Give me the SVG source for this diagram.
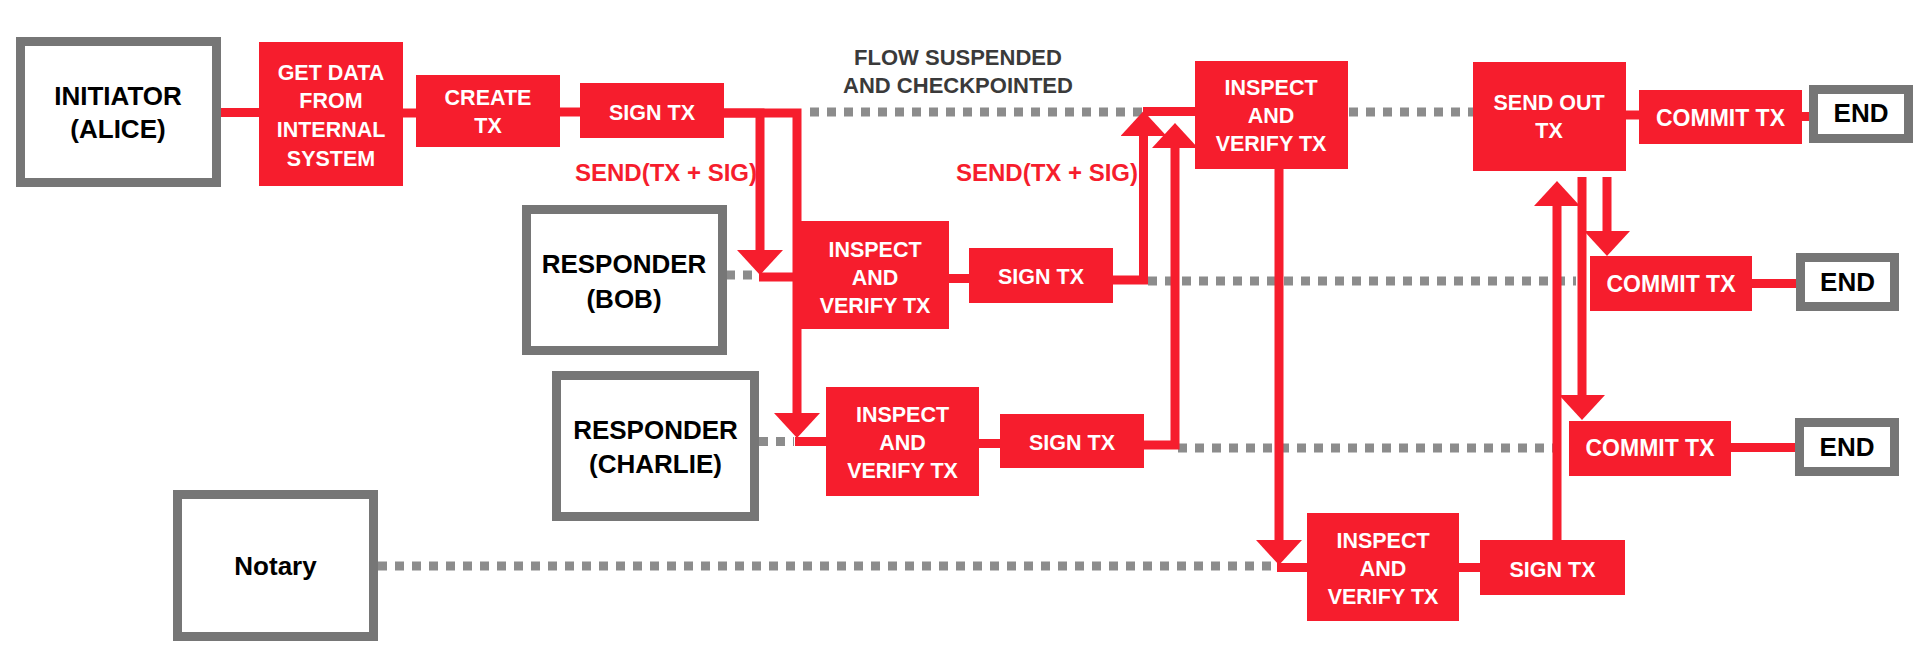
<svg xmlns="http://www.w3.org/2000/svg" width="1917" height="663" viewBox="0 0 1917 663">
<style>
.actor{fill:#ffffff;stroke:#767676;stroke-width:9}
.step{fill:#f61d2d}
.big{font-family:"Liberation Sans",Arial,sans-serif;font-weight:bold;font-size:26px;fill:#000;text-anchor:middle}
.lbl{font-family:"Liberation Sans",Arial,sans-serif;font-weight:bold;font-size:21.5px;fill:#fff;text-anchor:middle}
.cm{font-size:23px}
.red{font-family:"Liberation Sans",Arial,sans-serif;font-weight:bold;font-size:24px;fill:#f61d2d;text-anchor:middle}
.note{font-family:"Liberation Sans",Arial,sans-serif;font-weight:bold;font-size:22px;fill:#3a3a3a;text-anchor:middle}
.ln{fill:none;stroke:#f61d2d;stroke-width:9;stroke-linejoin:miter}
.arr{marker-end:url(#ah)}
.dot{fill:none;stroke:#8c8c8c;stroke-width:9;stroke-dasharray:9 8}
</style>
<defs>
<marker id="ah" markerUnits="userSpaceOnUse" markerWidth="26" markerHeight="46" refX="0" refY="23" orient="auto" viewBox="0 0 26 46">
<path d="M0,0 L25,23 L0,46 Z" fill="#f61d2d"/>
</marker>
</defs>
<rect width="1917" height="663" fill="#ffffff"/>

<g id="dotted">
<path class="dot" d="M810,112 H1143"/>
<path class="dot" d="M1349,112 H1473"/>
<path class="dot" d="M726,275 H759"/>
<path class="dot" d="M1148,281 H1576"/>
<path class="dot" d="M759,441.5 H794"/>
<path class="dot" d="M1178,448 H1553"/>
<path class="dot" d="M378,566 H1277"/>
</g>

<g id="connectors">
<path class="ln" d="M220,112.5 H260"/>
<path class="ln" d="M402,113 H417"/>
<path class="ln" d="M559,112 H581"/>
<path class="ln arr" d="M723,113 H760 V250"/>
<path class="ln" d="M759,277 H802"/>
<path class="ln arr" d="M723,113 H797 V413"/>
<path class="ln" d="M795,441.5 H827"/>
<path class="ln" d="M948,278.5 H970"/>
<path class="ln arr" d="M1112,280 H1143.5 V136"/>
<path class="ln" d="M1143,111.5 H1196"/>
<path class="ln" d="M978,443.5 H1001"/>
<path class="ln arr" d="M1143,445 H1175 V148"/>
<path class="ln arr" d="M1279,168 V540"/>
<path class="ln" d="M1277,567.5 H1308"/>
<path class="ln" d="M1458,567.5 H1481"/>
<path class="ln arr" d="M1557,541 V206"/>
<path class="ln" d="M1625,115 H1640"/>
<path class="ln" d="M1801,116.5 H1811"/>
<path class="ln arr" d="M1607,177 V231"/>
<path class="ln arr" d="M1582,177 V395"/>
<path class="ln" d="M1751,283.5 H1797"/>
<path class="ln" d="M1730,447.5 H1796"/>
</g>

<g id="note">
<text class="note" x="958" y="65">FLOW SUSPENDED</text>
<text class="note" x="958" y="93">AND CHECKPOINTED</text>
<text class="red" x="666" y="181">SEND(TX + SIG)</text>
<text class="red" x="1047" y="181">SEND(TX + SIG)</text>
</g>

<g id="initiator">
<rect class="actor" x="20.5" y="41.5" width="196" height="141"/>
<text class="big" x="118" y="105">INITIATOR</text>
<text class="big" x="118" y="138">(ALICE)</text>
</g>
<g id="get-data">
<rect class="step" x="259" y="42" width="144" height="144"/>
<text class="lbl" x="331" y="80">GET DATA</text>
<text class="lbl" x="331" y="108">FROM</text>
<text class="lbl" x="331" y="137">INTERNAL</text>
<text class="lbl" x="331" y="166">SYSTEM</text>
</g>
<g id="create-tx">
<rect class="step" x="416" y="75" width="144" height="72"/>
<text class="lbl" x="488" y="105">CREATE</text>
<text class="lbl" x="488" y="133">TX</text>
</g>
<g id="sign-tx-alice">
<rect class="step" x="580" y="83" width="144" height="55"/>
<text class="lbl" x="652" y="120">SIGN TX</text>
</g>
<g id="inspect-alice">
<rect class="step" x="1195" y="61" width="153" height="108"/>
<text class="lbl" x="1271" y="95">INSPECT</text>
<text class="lbl" x="1271" y="123">AND</text>
<text class="lbl" x="1271" y="151">VERIFY TX</text>
</g>
<g id="send-out-tx">
<rect class="step" x="1473" y="62" width="153" height="109"/>
<text class="lbl" x="1549" y="110">SEND OUT</text>
<text class="lbl" x="1549" y="138">TX</text>
</g>
<g id="commit-alice">
<rect class="step" x="1639" y="90" width="163" height="54"/>
<text class="lbl cm" x="1720.5" y="126">COMMIT TX</text>
</g>
<g id="end-alice">
<rect class="actor" x="1813.5" y="89.5" width="95" height="49"/>
<text class="big" x="1861" y="122">END</text>
</g>

<g id="responder-bob">
<rect class="actor" x="526.5" y="209.5" width="196" height="141"/>
<text class="big" x="624" y="273">RESPONDER</text>
<text class="big" x="624" y="308">(BOB)</text>
</g>
<g id="inspect-bob">
<rect class="step" x="801" y="221" width="148" height="108"/>
<text class="lbl" x="875" y="257">INSPECT</text>
<text class="lbl" x="875" y="285">AND</text>
<text class="lbl" x="875" y="313">VERIFY TX</text>
</g>
<g id="sign-tx-bob">
<rect class="step" x="969" y="248" width="144" height="55"/>
<text class="lbl" x="1041" y="284">SIGN TX</text>
</g>
<g id="commit-bob">
<rect class="step" x="1590" y="256" width="162" height="55"/>
<text class="lbl cm" x="1671" y="292">COMMIT TX</text>
</g>
<g id="end-bob">
<rect class="actor" x="1800.5" y="257.5" width="94" height="49"/>
<text class="big" x="1847.5" y="291">END</text>
</g>

<g id="responder-charlie">
<rect class="actor" x="556.5" y="375.5" width="198" height="141"/>
<text class="big" x="655.5" y="439">RESPONDER</text>
<text class="big" x="655.5" y="473">(CHARLIE)</text>
</g>
<g id="inspect-charlie">
<rect class="step" x="826" y="387" width="153" height="109"/>
<text class="lbl" x="902.5" y="422">INSPECT</text>
<text class="lbl" x="902.5" y="450">AND</text>
<text class="lbl" x="902.5" y="478">VERIFY TX</text>
</g>
<g id="sign-tx-charlie">
<rect class="step" x="1000" y="414" width="144" height="54"/>
<text class="lbl" x="1072" y="450">SIGN TX</text>
</g>
<g id="commit-charlie">
<rect class="step" x="1569" y="421" width="162" height="55"/>
<text class="lbl cm" x="1650" y="456">COMMIT TX</text>
</g>
<g id="end-charlie">
<rect class="actor" x="1799.5" y="422.5" width="95" height="49"/>
<text class="big" x="1847" y="456">END</text>
</g>

<g id="notary">
<rect class="actor" x="177.5" y="494.5" width="196" height="142"/>
<text class="big" x="275.5" y="575">Notary</text>
</g>
<g id="inspect-notary">
<rect class="step" x="1307" y="513" width="152" height="108"/>
<text class="lbl" x="1383" y="548">INSPECT</text>
<text class="lbl" x="1383" y="576">AND</text>
<text class="lbl" x="1383" y="604">VERIFY TX</text>
</g>
<g id="sign-tx-notary">
<rect class="step" x="1480" y="540" width="145" height="55"/>
<text class="lbl" x="1552.5" y="577">SIGN TX</text>
</g>
</svg>
